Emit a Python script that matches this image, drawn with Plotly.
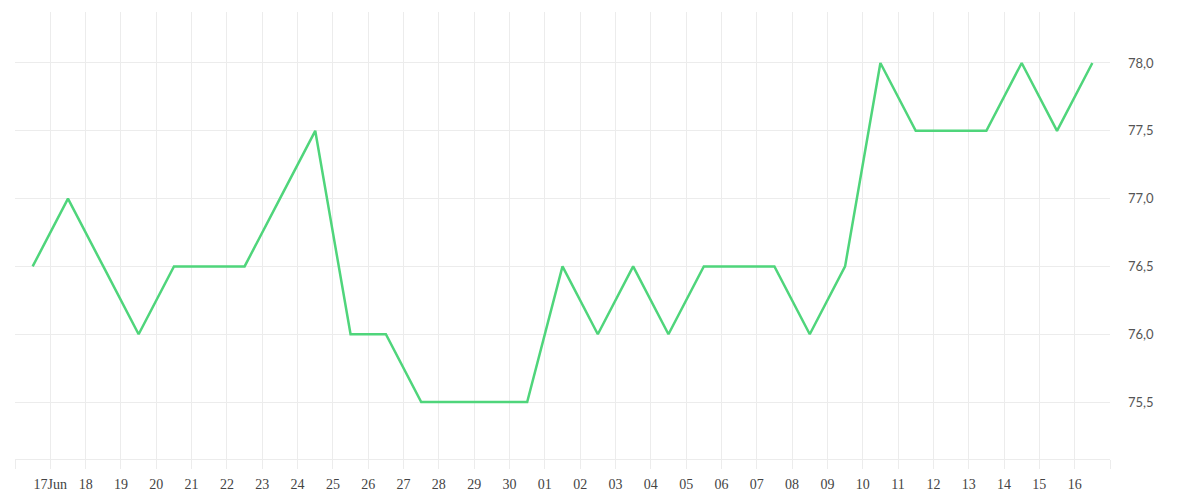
import plotly.graph_objects as go
import pandas as pd

start_date = "2024-06-16"
values = [76.5, 77.0, 76.5, 76.0, 76.5, 76.5, 76.5, 77.0, 77.5, 76.0, 76.0,
          75.5, 75.5, 75.5, 75.5, 76.5, 76.0, 76.5, 76.0, 76.5, 76.5, 76.5,
          76.0, 76.5, 78.0, 77.5, 77.5, 77.5, 78.0, 77.5, 78.0]
tick_labels = ["", "17Jun", "18", "19", "20", "21", "22", "23", "24", "25", "26",
               "27", "28", "29", "30", "01", "02", "03", "04", "05", "06", "07",
               "08", "09", "10", "11", "12", "13", "14", "15", "16", ""]
y_ticks = [75.5, 76.0, 76.5, 77.0, 77.5, 78.0]

days = pd.date_range(start_date, periods=len(values), freq="D")
x_points = days + pd.Timedelta(hours=12)
tick_vals = pd.date_range(start_date, periods=len(tick_labels), freq="D")

fig = go.Figure()
fig.add_trace(go.Scatter(
    x=x_points, y=values, mode="lines",
    line=dict(color="#4fd57b", width=2.5),
    hoverinfo="x+y",
))

grid = "#ececec"
fig.update_layout(
    width=1200, height=500,
    margin=dict(l=7, r=98, t=4, b=49),
    paper_bgcolor="white", plot_bgcolor="white",
    separators=",.",
    showlegend=False,
    xaxis=dict(
        range=[tick_vals[0], tick_vals[-1]],
        tickmode="array", tickvals=tick_vals, ticktext=tick_labels,
        showgrid=True, gridcolor=grid, gridwidth=1,
        ticks="outside", ticklen=9, tickcolor=grid, tickwidth=1,
        showline=True, linecolor=grid, linewidth=1,
        ticklabelstandoff=3,
        tickfont=dict(family="Liberation Serif", size=14, color="#444"),
        zeroline=False,
    ),
    yaxis=dict(
        side="right",
        range=[75.08, 78.376],
        tickmode="array", tickvals=y_ticks,
        tickformat=".1f",
        showgrid=True, gridcolor=grid, gridwidth=1,
        ticks="", ticklabelstandoff=17,
        showline=False, zeroline=False,
        tickfont=dict(family="Lato", size=13, color="#555"),
    ),
)

fig.write_html("out.html")
